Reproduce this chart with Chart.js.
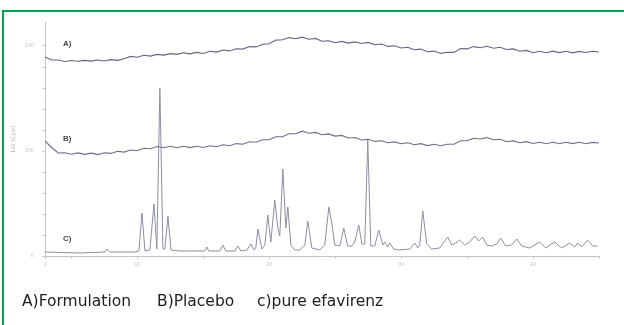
<!DOCTYPE html>
<html>
<head>
<meta charset="utf-8">
<script src="https://cdn.jsdelivr.net/npm/chart.js@4.4.1/dist/chart.umd.min.js"></script>
<style>
  html, body { margin: 0; padding: 0; background: #fff; }
  #wrap { position: relative; width: 624px; height: 325px; overflow: hidden; }
  #frame { position: absolute; left: 2px; top: 10px; width: 640px; height: 330px;
           border-top: 2px solid #00a651; border-left: 2px solid #00a651; }
  canvas { position: absolute; left: 0; top: 0; }
  .tag { position: absolute; font: bold 8px "Liberation Sans", Arial, sans-serif; color: #4a4a4a; }
  .leg { position: absolute; top: 292px; font: 15.5px "DejaVu Sans", Verdana, sans-serif; color: #222; white-space: pre; }
</style>
</head>
<body>
<div id="wrap">
  <div id="frame"></div>
  <canvas id="xrd" width="624" height="325"></canvas>
  <span class="tag" style="left:63px;top:39px">A)</span>
  <span class="tag" style="left:63px;top:134px">B)</span>
  <span class="tag" style="left:63px;top:234px">C)</span>
  <span class="leg" style="left:22px">A)Formulation</span>
  <span class="leg" style="left:157px">B)Placebo</span>
  <span class="leg" style="left:257px">c)pure efavirenz</span>
</div>
<script>
// 2-theta positions of the scanned amorphous traces (A and B)
const scanTheta = [
  3, 3.5, 4, 4.5, 5, 5.5, 6, 6.5, 7, 7.5, 8, 8.5, 9, 9.5, 10, 10.5, 11, 11.5, 12, 12.5,
  13, 13.5, 14, 14.5, 15, 15.5, 16, 16.5, 17, 17.5, 18, 18.5, 19, 19.5, 20, 20.5, 21, 21.5,
  22, 22.5, 23, 23.5, 24, 24.5, 25, 25.5, 26, 26.5, 27, 27.5, 28, 28.5, 29, 29.5, 30, 30.5,
  31, 31.5, 32, 32.5, 33, 33.5, 34, 34.5, 35, 35.5, 36, 36.5, 37, 37.5, 38, 38.5, 39, 39.5,
  40, 40.5, 41, 41.5, 42, 42.5, 43, 43.5, 44, 44.5, 45
];

// A) Formulation (offset trace, counts as drawn)
const formulation = [
  199, 196, 196, 194.5, 195.5, 194.8, 195.6, 194.9, 196, 195, 196.4, 195.6, 197.2, 199.6, 198.8, 200.7, 199.9, 201.6, 200.9, 202.4,
  201.6, 203.2, 202.1, 203.6, 202.5, 204.8, 203.9, 206, 205.1, 207.3, 206.9, 209.4, 209.1, 211.8, 212.3, 215.9, 216.2, 218.4,
  217.3, 218.9, 216.7, 217.6, 214.8, 215.3, 213.2, 214.6, 212.9, 214.1, 212.5, 213.6, 211.3, 212, 209.6, 210.3, 208, 208.8,
  206.2, 206.9, 204.2, 204.9, 202.6, 203.8, 203.6, 207.4, 207.1, 209.4, 208.2, 209.7, 207.8, 208.8, 206.5, 207.1, 204.8, 205.6,
  203.3, 204.8, 203.2, 204.9, 203.4, 204.7, 203.1, 204.6, 203.5, 204.8, 204
];

// B) Placebo
const placebo = [
  115, 108.5, 103, 103.3, 101.8, 103.1, 101.6, 102.9, 101.4, 103.2, 102.6, 104.7, 103.9, 106, 105.3, 107.7, 107.2, 109.5, 108.3, 109.8,
  108.2, 109.7, 108.4, 109.8, 108.5, 110.3, 109.2, 111.2, 110.3, 112.4, 111.7, 114.3, 113.8, 116.3, 116.2, 119.3, 119.2, 122.3,
  122.2, 124.8, 122.7, 123.6, 121.3, 122.1, 119.9, 120.6, 118, 118.5, 116, 116.7, 114.6, 115.3, 113.2, 114.1, 112.2, 113.3,
  111.3, 112.4, 110.4, 111.7, 110.2, 111.8, 111.8, 115.3, 115.2, 117.7, 117, 118.4, 116.3, 116.8, 114.3, 115.1, 113.2, 114.4,
  112.5, 113.8, 112.2, 113.7, 112.3, 113.8, 112.4, 113.7, 112.3, 113.6, 113
];

// C) pure efavirenz: peak tops and the base between them
const pureTheta = [
  3.00, 5.65, 7.55, 7.70, 7.92, 9.82, 10.12, 10.35, 10.58, 10.95,
  11.26, 11.48, 11.71, 11.94, 12.09, 12.32, 12.55, 13.23, 15.12, 15.27,
  15.42, 16.26, 16.48, 16.71, 17.39, 17.62, 17.85, 18.30, 18.61, 18.83,
  18.98, 19.14, 19.44, 19.67, 19.89, 20.12, 20.42, 20.65, 20.80, 21.03,
  21.26, 21.41, 21.64, 21.94, 22.32, 22.70, 22.92, 23.23, 23.83, 24.21,
  24.52, 24.74, 24.97, 25.35, 25.65, 25.95, 26.26, 26.48, 26.79, 27.02,
  27.24, 27.47, 27.70, 28.00, 28.30, 28.61, 28.76, 28.98, 29.14, 29.44,
  29.89, 30.65, 31.03, 31.26, 31.41, 31.64, 31.94, 32.32, 32.92, 33.53,
  33.83, 34.14, 34.44, 34.82, 35.20, 35.58, 35.88, 36.18, 36.48, 36.86,
  37.24, 37.55, 37.92, 38.38, 38.76, 39.14, 39.74, 40.50, 40.95, 41.64,
  42.17, 42.77, 43.15, 43.38, 43.68, 44.14, 44.52, 44.89
];
const pureEfavirenz = [
  4, 3, 4, 7, 4, 4, 5, 43, 5, 6,
  52, 7, 168, 7, 7, 40, 6, 5, 5, 9,
  5, 5, 11, 5, 5, 10, 5, 6, 12, 6,
  8, 27, 7, 11, 41, 14, 56, 28, 20, 87,
  28, 49, 11, 6, 6, 11, 35, 8, 6, 11,
  49, 33, 11, 10, 28, 10, 10, 14, 31, 12,
  12, 116, 10, 10, 26, 11, 14, 9, 13, 7,
  6, 7, 13, 8, 11, 45, 12, 7, 8, 19,
  11, 13, 16, 11, 14, 20, 15, 19, 11, 10,
  12, 18, 10, 11, 17, 10, 8, 14, 8, 14,
  8, 13, 9, 13, 9, 16, 10, 10
];

// axis ticks
const xTicks = [3, 5, 10, 15, 20, 25, 30, 35, 40, 45];
const xLabels = [3, 10, 20, 30, 40];
const yTicks = [0, 21, 42, 63, 84, 105, 126, 147, 168, 189, 210];
const yLabels = { 0: '0', 105: '100', 210: '200' };

function toPoints(xs, ys) {
  return xs.map((x, i) => ({ x: x, y: ys[i] }));
}

const ctx = document.getElementById('xrd').getContext('2d');
new Chart(ctx, {
  type: 'line',
  data: {
    datasets: [
      { label: 'A)Formulation', data: toPoints(scanTheta, formulation), borderColor: '#62667e', borderWidth: 1.1 },
      { label: 'B)Placebo', data: toPoints(scanTheta, placebo), borderColor: '#6c7088', borderWidth: 1.1 },
      { label: 'c)pure efavirenz', data: toPoints(pureTheta, pureEfavirenz), borderColor: '#8b8fa2', borderWidth: 1 }
    ]
  },
  options: {
    responsive: false,
    animation: false,
    devicePixelRatio: 1,
    elements: { point: { radius: 0 }, line: { tension: 0 } },
    layout: { padding: { left: 0, right: 25, top: 22, bottom: 55 } },
    plugins: { legend: { display: false }, tooltip: { enabled: false } },
    scales: {
      x: {
        type: 'linear', min: 3, max: 45,
        afterBuildTicks: s => { s.ticks = xTicks.map(v => ({ value: v })); },
        afterFit: s => { s.height = 14; },
        grid: { drawOnChartArea: false, tickLength: 3, color: '#c9ccd4' },
        border: { color: '#c2c5cf' },
        ticks: {
          autoSkip: false, maxRotation: 0, padding: 3, color: '#c4c4c4',
          font: { size: 5, family: 'DejaVu Sans' },
          callback: v => xLabels.includes(v) ? String(v) : ''
        }
      },
      y: {
        min: 0, max: 234,
        afterBuildTicks: s => { s.ticks = yTicks.map(v => ({ value: v })); },
        afterFit: s => { s.width = 45; },
        grid: { drawOnChartArea: false, tickLength: 3, color: '#c9ccd4' },
        border: { color: '#c2c5cf' },
        title: { display: true, text: 'Lin (Cps)', color: '#b5b5b5', font: { size: 6, family: 'DejaVu Sans' }, padding: { top: 10, bottom: 0 } },
        ticks: {
          autoSkip: false, padding: 8, color: '#c4c4c4',
          font: { size: 5, family: 'DejaVu Sans' },
          callback: v => yLabels[v] || ''
        }
      }
    }
  }
});
</script>
</body>
</html>
